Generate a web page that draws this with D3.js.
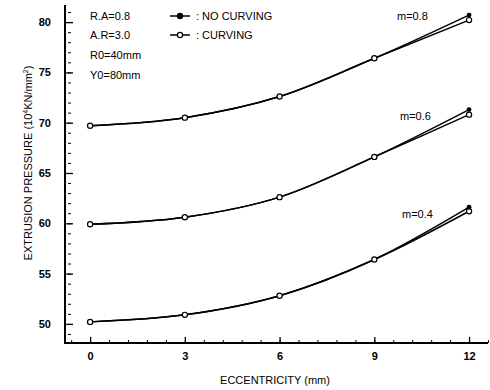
<!DOCTYPE html>
<html><head><meta charset="utf-8">
<script src="https://cdn.jsdelivr.net/npm/d3@7"></script>
<style>
body{margin:0;background:#fff;}
text{font-family:"Liberation Sans",Arial,sans-serif;fill:#000;}
</style></head>
<body><svg id="c" width="490" height="390"></svg>
<script>
const eccentricity = [0, 3, 6, 9, 12];
const noCurving08 = [69.7, 70.5, 72.6, 76.4, 80.7];
const curving08   = [69.7, 70.5, 72.6, 76.4, 80.2];
const noCurving06 = [59.9, 60.6, 62.6, 66.6, 71.3];
const curving06   = [59.9, 60.6, 62.6, 66.6, 70.8];
const noCurving04 = [50.2, 50.9, 52.8, 56.4, 61.6];
const curving04   = [50.2, 50.9, 52.8, 56.4, 61.2];
const xTicks = [0, 3, 6, 9, 12];
const yTicks = [50, 55, 60, 65, 70, 75, 80];
const groupLabels = ["m=0.8", "m=0.6", "m=0.4"];
const infoLines = ["R.A=0.8", "A.R=3.0", "R0=40mm", "Y0=80mm"];
const legendLabels = [": NO CURVING", ": CURVING"];

const svg = d3.select("#c");
const x = d3.scaleLinear().domain([-0.7, 12.6]).range([68, 488]);
const y = d3.scaleLinear().domain([48.1, 81.7]).range([343, 5]);

// axes
const xMinor = d3.range(-0.6, 12.61, 0.6).map(v => +v.toFixed(2));
const yMinor = d3.range(49, 81.1, 1);
svg.append("g").attr("transform","translate(0,343)")
  .call(d3.axisBottom(x).tickValues(xMinor).tickSizeInner(-3).tickSizeOuter(0).tickFormat(""))
  .call(g=>g.select(".domain").remove())
  .call(g=>g.selectAll("line").attr("stroke","#000"));
svg.append("g").attr("transform","translate(68,0)")
  .call(d3.axisLeft(y).tickValues(yMinor).tickSizeInner(-3).tickSizeOuter(0).tickFormat(""))
  .call(g=>g.select(".domain").remove())
  .call(g=>g.selectAll("line").attr("stroke","#000"));

const gx = svg.append("g").attr("transform","translate(0,343)")
  .call(d3.axisBottom(x).tickValues(xTicks).tickSizeInner(-6).tickSizeOuter(0).tickPadding(9).tickFormat(d3.format("d")));
gx.select(".domain").remove();
gx.selectAll("line").attr("stroke","#000").attr("stroke-width",1.3);
gx.selectAll("text").attr("font-size",11).attr("font-weight","bold");

const gy = svg.append("g").attr("transform","translate(66,0)")
  .call(d3.axisLeft(y).tickValues(yTicks).tickSizeInner(-7).tickSizeOuter(0).tickPadding(15).tickFormat(d3.format("d")));
gy.select(".domain").remove();
gy.selectAll("line").attr("stroke","#000").attr("stroke-width",1.3);
gy.selectAll("text").attr("font-size",11).attr("font-weight","bold");

svg.append("path")
  .attr("d", `M${x(-0.7)-3},${y(81.7)} L${x(-0.7)-3},${y(48.1)} L${x(12.6)},${y(48.1)}`)
  .attr("fill","none").attr("stroke","#000").attr("stroke-width",2);

// titles
svg.append("text").attr("x",275).attr("y",384).attr("text-anchor","middle")
  .attr("font-size",11).text("ECCENTRICITY (mm)");
const yt = svg.append("text").attr("transform","translate(32,163) rotate(-90)")
  .attr("text-anchor","middle").attr("font-size",11);
yt.append("tspan").text("EXTRUSION PRESSURE (10");
yt.append("tspan").attr("dy",-4).attr("font-size",7).text("4");
yt.append("tspan").attr("dy",4).text("KN/mm");
yt.append("tspan").attr("dy",-4).attr("font-size",7).text("2");
yt.append("tspan").attr("dy",4).text(")");

// info text
const infoY = [20, 39, 59, 79];
infoLines.forEach((t,i)=>svg.append("text").attr("x",90).attr("y",infoY[i]).attr("font-size",11).text(t));

// legend
[[true,20],[false,39]].forEach(([filled,ly],i)=>{
  svg.append("line").attr("x1",170).attr("x2",190).attr("y1",ly-4).attr("y2",ly-4).attr("stroke","#000").attr("stroke-width",1.5);
  svg.append("circle").attr("cx",180).attr("cy",ly-4).attr("r",2.6)
    .attr("fill",filled?"#000":"#fff").attr("stroke","#000").attr("stroke-width",1.2);
  svg.append("text").attr("x",196).attr("y",ly).attr("font-size",11).text(legendLabels[i]);
});

// series
const line = d3.line().x(d=>x(d[0])).y(d=>y(d[1])).curve(d3.curveMonotoneX);
const groups = [[noCurving08,curving08],[noCurving06,curving06],[noCurving04,curving04]];
groups.forEach(([nc,c])=>{
  const ncPts = eccentricity.map((e,i)=>[e,nc[i]]);
  const cPts = eccentricity.map((e,i)=>[e,c[i]]);
  svg.append("path").attr("d",line(cPts)).attr("fill","none").attr("stroke","#000").attr("stroke-width",1.5);
  svg.append("path").attr("d",line(ncPts)).attr("fill","none").attr("stroke","#000").attr("stroke-width",1.5);
  cPts.forEach(p=>svg.append("circle").attr("cx",x(p[0])).attr("cy",y(p[1])).attr("r",2.6)
    .attr("fill","#fff").attr("stroke","#000").attr("stroke-width",1.2));
  const last = ncPts[ncPts.length-1];
  svg.append("circle").attr("cx",x(last[0])).attr("cy",y(last[1])).attr("r",2.4).attr("fill","#000");
});

// group labels
const labelPos = [[397,20,80.2],[400,120,70.8],[402,218,61.2]];
groupLabels.forEach((t,i)=>svg.append("text").attr("x",labelPos[i][0]).attr("y",labelPos[i][1]).attr("font-size",11).text(t));
</script></body></html>
